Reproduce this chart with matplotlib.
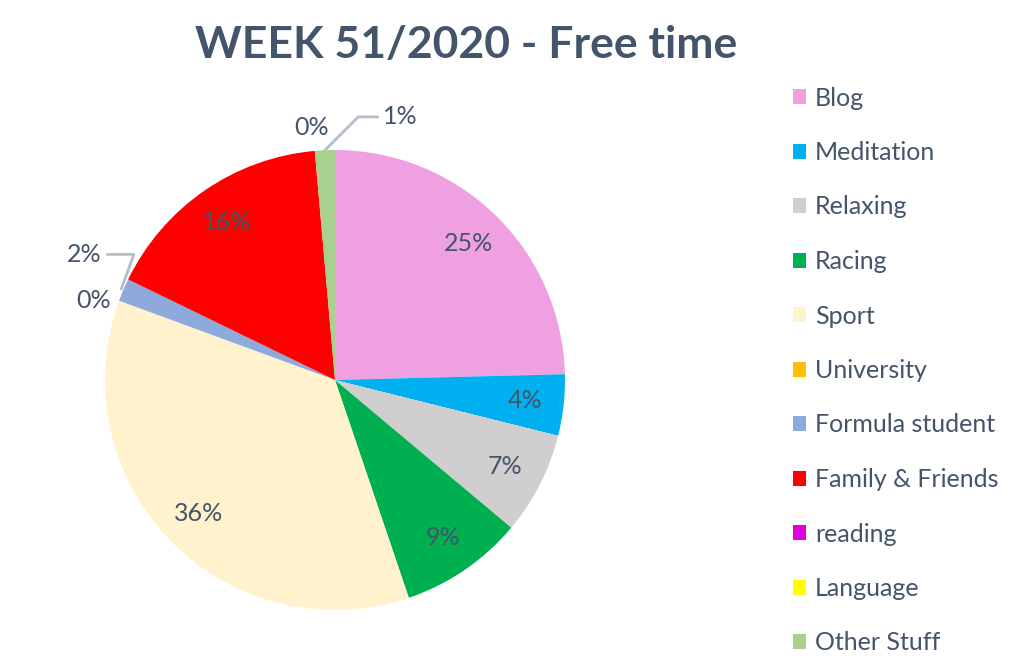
import numpy as np
import matplotlib
matplotlib.use('Agg')
import matplotlib.pyplot as plt

# shares of free time [%]
categories = ['Blog', 'Meditation', 'Relaxing', 'Racing', 'Sport', 'University',
              'Formula student', 'Family & Friends', 'reading', 'Language', 'Other Stuff']
shares = [24.6, 4.3, 7.2, 8.7, 35.8, 0.0, 1.6, 16.4, 0.0, 0.0, 1.4]
colors = ['#EFA0E0', '#00B0F0', '#D0CECE', '#00B050', '#FFF2CC', '#FFC000',
          '#8EA9DB', '#FF0000', '#E000E0', '#FFFF00', '#A9D08E']

TXT = '#44546A'
LEADER = '#B4BEC8'
plt.rcParams['font.family'] = ['Lato', 'DejaVu Sans']

fig = plt.figure(figsize=(10.23, 6.69), dpi=100)
ax = fig.add_axes([105 / 1023, 59 / 669, 460 / 1023, 460 / 669])

wedges, _ = ax.pie(shares, colors=colors, startangle=90, counterclock=False, radius=1.0)
ax.set_xlim(-1, 1)
ax.set_ylim(-1, 1)
ax.set_aspect('equal')
ax.axis('off')

FS = 18
total = sum(shares)
big = [0, 1, 2, 3, 4, 7]
for i, w in enumerate(wedges):
    if categories[i] == 'reading':
        continue  # hidden behind the Language label
    mid = np.deg2rad((w.theta1 + w.theta2) / 2)
    lbl = f"{round(shares[i] / total * 100):.0f}%"
    if i in big:
        r = 0.83
        ax.text(r * np.cos(mid), r * np.sin(mid), lbl, ha='center', va='center',
                fontsize=FS, color=TXT)
        continue
    ex, ey = np.cos(mid), np.sin(mid)
    if categories[i] == 'University':
        ax.annotate(lbl, (ex, ey), xytext=(-6, 0), textcoords='offset points',
                    ha='right', va='center', fontsize=FS, color=TXT)
    elif categories[i] == 'Formula student':
        ax.annotate(lbl, (ex * 1.01, ey * 1.01), xytext=(-14, 25), textcoords='offset points',
                    ha='right', va='center', fontsize=FS, color=TXT,
                    arrowprops=dict(arrowstyle='-', color=LEADER, lw=2,
                                    connectionstyle='angle,angleA=0,angleB=70,rad=0',
                                    shrinkA=2, shrinkB=0))
    elif categories[i] == 'Language':
        ax.annotate(lbl, (ex, ey), xytext=(-2, 17), textcoords='offset points',
                    ha='center', va='center', fontsize=FS, color=TXT)
    else:
        ax.annotate(lbl, (ex, ey), xytext=(42, 24), textcoords='offset points',
                    ha='left', va='center', fontsize=FS, color=TXT,
                    arrowprops=dict(arrowstyle='-', color=LEADER, lw=2,
                                    connectionstyle='angle,angleA=0,angleB=45,rad=0',
                                    shrinkA=2, shrinkB=0))

fig.text(466 / 1023, 1 - 45 / 669, 'WEEK 51/2020 - Free time', ha='center', va='center',
         fontsize=32, fontweight='bold', color=TXT)

leg = fig.legend(wedges, categories, loc='upper left', bbox_to_anchor=(780 / 1023, 1 - 74 / 669),
                 frameon=False, fontsize=FS, handlelength=0.55, handleheight=0.55,
                 handletextpad=0.35, labelspacing=1.26, borderpad=0)
for t in leg.get_texts():
    t.set_color(TXT)

plt.savefig('out.png', dpi=100)
